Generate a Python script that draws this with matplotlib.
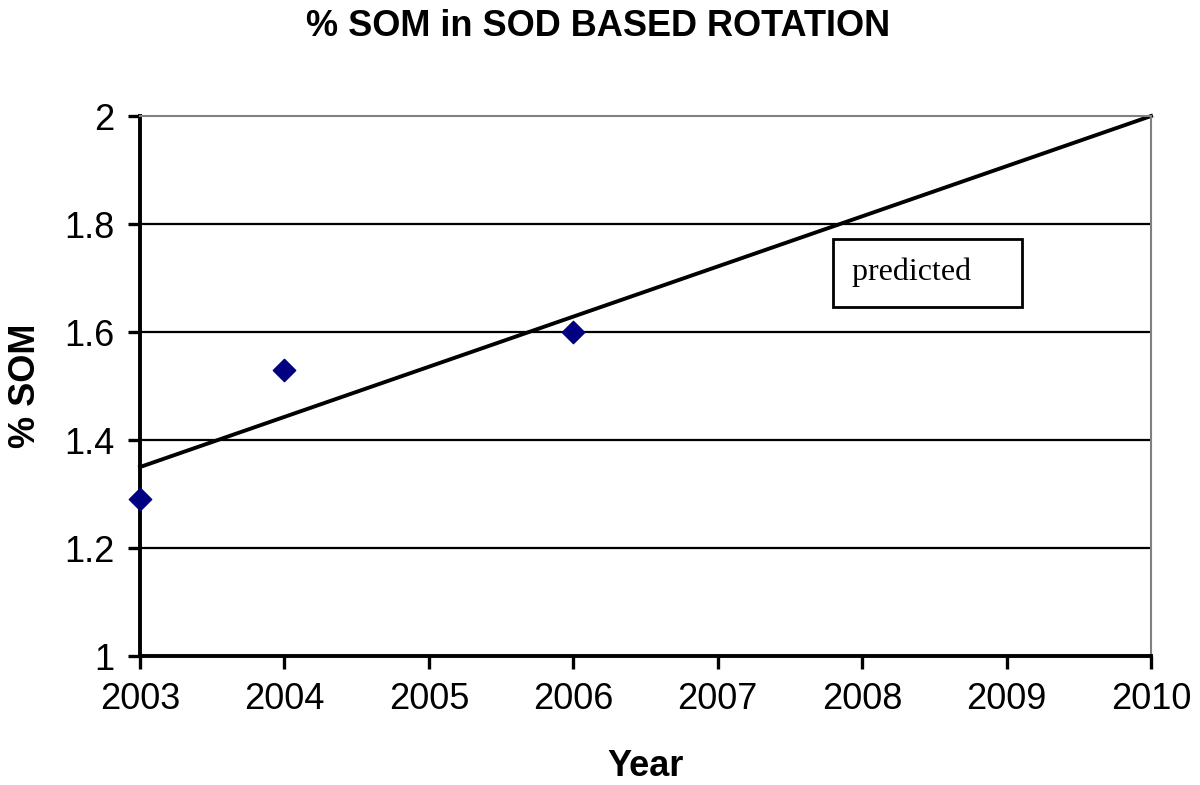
import matplotlib.pyplot as plt

# data
years = [2003, 2004, 2006]
som = [1.29, 1.53, 1.60]
trend_years = [2003, 2010]
trend_som = [1.35, 2.0]
x_ticks = [2003, 2004, 2005, 2006, 2007, 2008, 2009, 2010]
y_ticks = [1, 1.2, 1.4, 1.6, 1.8, 2]
y_labels = ['1', '1.2', '1.4', '1.6', '1.8', '2']

plt.rcParams['font.family'] = ['Liberation Sans', 'DejaVu Sans']

fig = plt.figure(figsize=(12, 7.85), dpi=100)
ax = fig.add_axes([0.1167, 0.1643, 0.8425, 0.6879])

# gridlines
for v in y_ticks[1:-1]:
    ax.axhline(v, color='black', lw=1.6, zorder=1)

ax.plot(trend_years, trend_som, color='black', lw=2.8, zorder=2, clip_on=False)
ax.scatter(years, som, marker='D', s=130, color='#000080', zorder=3, clip_on=False)

ax.set_xlim(2003, 2010)
ax.set_ylim(1, 2)
ax.set_xticks(x_ticks)
ax.set_yticks(y_ticks)
ax.set_yticklabels(y_labels)
ax.tick_params(axis='both', labelsize=26, width=2.4, length=9, direction='out', pad=9.5)

for s in ['top', 'right']:
    ax.spines[s].set_color('#808080')
    ax.spines[s].set_linewidth(1.5)
for s in ['left', 'bottom']:
    ax.spines[s].set_linewidth(2.8)

fig.text(0.498, 1 - 27 / 785, '% SOM in SOD BASED ROTATION', fontsize=26, fontweight='bold',
         ha='center', va='center')
ax.set_xlabel('Year', fontsize=26, fontweight='bold', va='center')
ax.xaxis.set_label_coords(0.5, -0.205)
ax.set_ylabel('% SOM', fontsize=26, fontweight='bold', va='center')
ax.yaxis.set_label_coords(-0.113, 0.5)

ax.text(2007.93, 1.71, 'predicted    ', family=['Liberation Serif', 'DejaVu Serif'], fontsize=23,
        va='center', ha='left',
        bbox=dict(boxstyle='square,pad=0.6', fc='white', ec='black', lw=2), zorder=4)

fig.savefig('out.png', dpi=100)
